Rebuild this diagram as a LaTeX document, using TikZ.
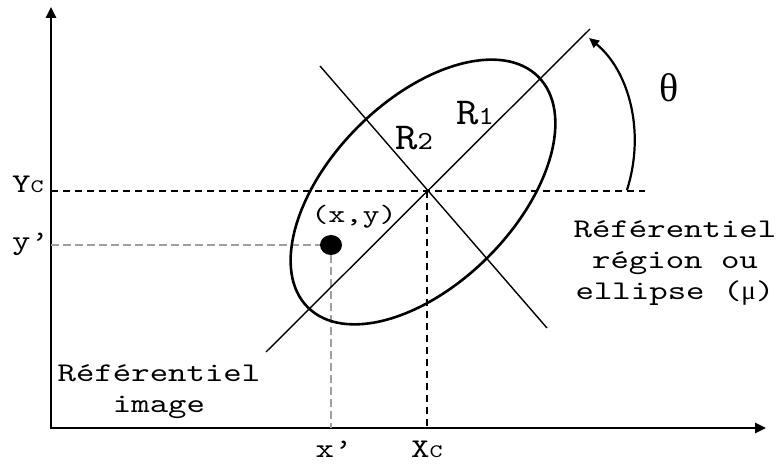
\documentclass[tikz,border=0pt]{standalone}
\usepackage{fontspec}
\setmainfont{Liberation Serif}
\newfontfamily\cour[FakeStretch=1.3]{lmmono10-regular.otf}
\newfontfamily\courr[FakeStretch=1.12]{lmmono10-regular.otf}
\usetikzlibrary{arrows.meta,shapes.geometric}
\begin{document}
\begin{tikzpicture}[x=1pt,y=1pt,
  axis/.style={line width=2.6pt,-{Triangle[length=11pt,width=10pt]}},
  blackdash/.style={line width=1.8pt,dash pattern=on 7pt off 5pt},
  greydash/.style={line width=1.2pt,gray!75,dash pattern=on 8pt off 4pt},
  refline/.style={line width=1.4pt},
  lbl/.style={inner sep=0pt,font=\cour\fontsize{27}{31}\selectfont},
]
\useasboundingbox (0,0) rectangle (780,464);
% axes
\coordinate (O) at (51,36);
\coordinate (ytop) at (51,457);
\coordinate (xend) at (766,36);
\draw[axis] (51,34.7) -- (ytop);
\draw[axis] (49.7,36) -- (xend);
% centre and dashed guides
\coordinate (C) at (427,273);
\coordinate (YcL) at (51,273);
\coordinate (YcR) at (645,273);
\coordinate (XcB) at (427,36);
\coordinate (ypL) at (51,219);
\coordinate (xpB) at (331,36);
\draw[blackdash] (YcL) -- (YcR);
\draw[blackdash] (C) -- (XcB);
\node[ellipse,fill=black,minimum width=22pt,minimum height=20pt,inner sep=0pt] (dot) at (331,219) {};
\draw[greydash] (ypL) -- (dot.west);
\draw[greydash] (dot.south) -- (xpB);
% ellipse and axes of region
\draw[line width=2.6pt] (423,272) ellipse[x radius=163, y radius=92, rotate=45];
\coordinate (r1a) at (266,112);
\coordinate (r1b) at (590,435);
\coordinate (r2a) at (320,398);
\coordinate (r2b) at (547,136);
\draw[refline] (r1a) -- (r1b);
\draw[refline] (r2a) -- (r2b);
% theta arc
\coordinate (arcS) at (627,274);
\coordinate (arcE) at (589,426);
\draw[line width=2.2pt,-{Triangle[length=10pt,width=9pt]}] (arcS) .. controls (646,334) and (628,394) .. (arcE);
% labels
\node[inner sep=0pt,anchor=base,font=\fontsize{40}{40}\selectfont] (theta) at (669,362) {θ};
\node[inner sep=0pt,anchor=base west] (R1) at (456,339) {\courr\fontsize{38}{38}\selectfont R\fontsize{26}{26}\selectfont 1};
\node[inner sep=0pt,anchor=base west] (R2) at (395,314) {\courr\fontsize{38}{38}\selectfont R\fontsize{26}{26}\selectfont 2};
\node[lbl,anchor=base,font=\cour\fontsize{25}{25}\selectfont] (xy) at (354,241) {(x,y)};
\node[lbl,anchor=base west] (Yc) at (12,271) {Y{\fontsize{19}{19}\selectfont C}};
\node[lbl,anchor=base west] (yp) at (12,214) {y’};
\node[lbl,anchor=base] (xp) at (334,6) {x’};
\node[lbl,anchor=base west] (Xc) at (411,6) {X{\fontsize{19}{19}\selectfont C}};
\node[lbl,align=center,anchor=center] (refreg) at (675,201) {Référentiel\\région ou\\ellipse ({\rmfamily μ})};
\node[lbl,align=center,anchor=center] (refimg) at (159,72) {Référentiel\\image};
\end{tikzpicture}
\end{document}
